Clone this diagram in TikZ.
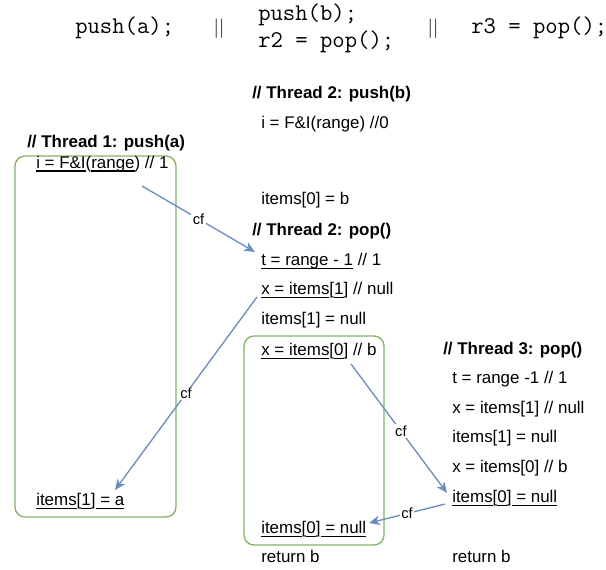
\documentclass[tikz,border=0pt]{standalone}
\usepackage{fontspec}
\setmainfont{Liberation Sans}
\newfontfamily\lmroman{Latin Modern Roman}
\usetikzlibrary{arrows.meta}
\definecolor{boxgreen}{HTML}{82B366}
\definecolor{arrowblue}{HTML}{6C8EBF}
\newsavebox\ulbox
\newcommand\ulin[1]{\sbox\ulbox{#1}\rlap{\rule[-2.4pt]{\wd\ulbox}{0.9pt}}\usebox\ulbox}
\tikzset{
  txt/.style={anchor=base west, inner sep=0pt, font=\fontsize{12.7}{15}\selectfont},
  hdr/.style={anchor=base west, inner sep=0pt, font=\fontsize{12.7}{15}\selectfont\bfseries},
  code/.style={anchor=base west, inner sep=0pt, font=\fontsize{18}{22}\selectfont\ttfamily},
  bar/.style={anchor=base, inner sep=0pt, font=\fontsize{14.5}{17}\selectfont\lmroman},
  greenbox/.style={draw=boxgreen, line width=1pt, rounded corners=7.5pt},
  cfarrow/.style={draw=arrowblue, line width=1pt, -{Stealth[length=8pt,width=7pt,inset=2.2pt]}},
  cflabel/.style={fill=white, inner sep=1pt, font=\fontsize{11}{13}\selectfont}
}
\begin{document}
\begin{tikzpicture}[x=0.75pt,y=-0.75pt]
\useasboundingbox (0,0) rectangle (606,570);
\fill[white] (0,0) rectangle (606,570);
% top code line
\node[code] (pa) at (75,34) {push(a);};
\node[bar] (bar1) at (219,34) {||};
\node[code] (pb) at (258,21) {push(b);};
\node[code] (r2) at (258,48) {r2 = pop();};
\node[bar] (bar2) at (433,34) {||};
\node[code] (r3) at (471,34) {r3 = pop();};
% boxes
\draw[greenbox] (15,156) rectangle (176,517);
\draw[greenbox] (244,336) rectangle (384,545);
% thread 1
\node[hdr] (h1) at (27,147.5) {// Thread 1: push(a)};
\node[txt] (t1i) at (36,168.5) {\ulin{i = F\&I}(\ulin{range}) // 1};
\node[txt] (t1a) at (36,505.5) {\ulin{items}[\ulin{1}]\ulin{ = a}};
% thread 2
\node[hdr] (h2a) at (252,98.5) {// Thread 2: push(b)};
\node[txt] (t2i) at (261,128.5) {i = F\&I(range) //0};
\node[txt] (t2items) at (261,204.5) {items[0] = b};
\node[hdr] (h2b) at (252,235.5) {// Thread 2: pop()};
\node[txt] (t2t) at (261,265.5) {\ulin{t = range - 1} // 1};
\node[txt] (t2x1) at (261,294.5) {\ulin{x = items}[\ulin{1}] // null};
\node[txt] (t2n1) at (261,324.5) {items[1] = null};
\node[txt] (t2x0) at (261,355.5) {\ulin{x = items}[\ulin{0}] // b};
\node[txt] (t2n0) at (261,533.5) {\ulin{items}[\ulin{0}]\ulin{ = null}};
\node[txt] (t2r) at (261,562.5) {return b};
% thread 3
\node[hdr] (h3) at (443,354.5) {// Thread 3: pop()};
\node[txt] (t3t) at (452,383.5) {t = range -1 // 1};
\node[txt] (t3x1) at (452,413.5) {x = items[1] // null};
\node[txt] (t3n1) at (452,442.5) {items[1] = null};
\node[txt] (t3x0) at (452,472.5) {x = items[0] // b};
\node[txt] (t3n0) at (452,502.5) {\ulin{items}[\ulin{0}]\ulin{ = null}};
\node[txt] (t3r) at (452,562.5) {return b};
% connector ends
\coordinate (a1s) at (142,186);
\coordinate (a1e) at (255,252);
\coordinate (a2s) at (257,297);
\coordinate (a2e) at (115,490);
\coordinate (a3s) at (351,364);
\coordinate (a3e) at (447,493);
\coordinate (a4s) at (445,504);
\coordinate (a4e) at (369,523);
\draw[cfarrow] (a1s) -- node[cflabel] {cf} (a1e);
\draw[cfarrow] (a2s) -- node[cflabel] {cf} (a2e);
\draw[cfarrow] (a3s) -- node[cflabel, pos=0.52] {cf} (a3e);
\draw[cfarrow] (a4s) -- node[cflabel] {cf} (a4e);
\end{tikzpicture}
\end{document}
